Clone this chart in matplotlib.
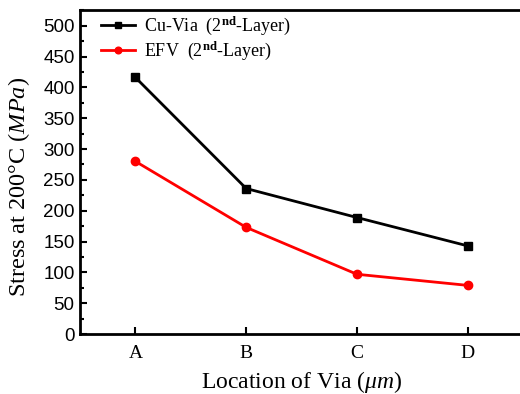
import matplotlib
matplotlib.use('Agg')
import matplotlib.pyplot as plt
from matplotlib.ticker import MultipleLocator

# Data
locations = ['A', 'B', 'C', 'D']
cu_via = [416, 236, 189, 143]
efv = [280, 173, 97, 79]

plt.rcParams['mathtext.fontset'] = 'custom'
plt.rcParams['mathtext.rm'] = 'Liberation Serif'
plt.rcParams['mathtext.it'] = 'Liberation Serif:italic'
plt.rcParams['mathtext.bf'] = 'Liberation Serif:bold'

fig = plt.figure(figsize=(5.2, 3.94), dpi=100)
ax = fig.add_axes([0.154, 0.152, 0.852, 0.822])

x = range(len(locations))
ax.plot(x, cu_via, color='black', lw=2, marker='s', ms=6, label='Cu-Via  (2$^{\\mathbf{nd}}$-Layer)')
ax.plot(x, efv, color='red', lw=2, marker='o', ms=6, label='EFV  (2$^{\\mathbf{nd}}$-Layer)')

ax.set_xlim(-0.5, 3.5)
ax.set_ylim(0, 525)
ax.set_xticks(list(x))
ax.set_xticklabels(locations, family='Liberation Serif', fontsize=14)
ax.yaxis.set_major_locator(MultipleLocator(50))
ax.yaxis.set_minor_locator(MultipleLocator(25))
for lbl in ax.get_yticklabels():
    lbl.set_family('Liberation Sans')
    lbl.set_fontsize(13.5)

ax.tick_params(axis='both', which='both', direction='in', top=False, right=False)
ax.tick_params(which='major', length=5, width=1.5)
ax.tick_params(which='minor', length=3, width=1.5)
ax.tick_params(axis='x', pad=8)
ax.tick_params(axis='y', pad=4)
for s in ax.spines.values():
    s.set_linewidth(2)

ax.set_xlabel('Location of Via ($\\mathit{\\mu m}$)', family='Liberation Serif', fontsize=17, labelpad=5)
ax.set_ylabel('Stress at 200°C ($\\mathit{MPa}$)', family='Liberation Serif', fontsize=17.5)
ax.yaxis.set_label_coords(-0.108, 0.454)

leg = ax.legend(loc='upper left', bbox_to_anchor=(0.047, 0.987), frameon=False,
                prop={'family': 'Liberation Serif', 'size': 13},
                handlelength=1.9, handletextpad=0.5, borderaxespad=0, borderpad=0,
                labelspacing=0.15, markerscale=0.8)

fig.savefig('out.png', dpi=100)
